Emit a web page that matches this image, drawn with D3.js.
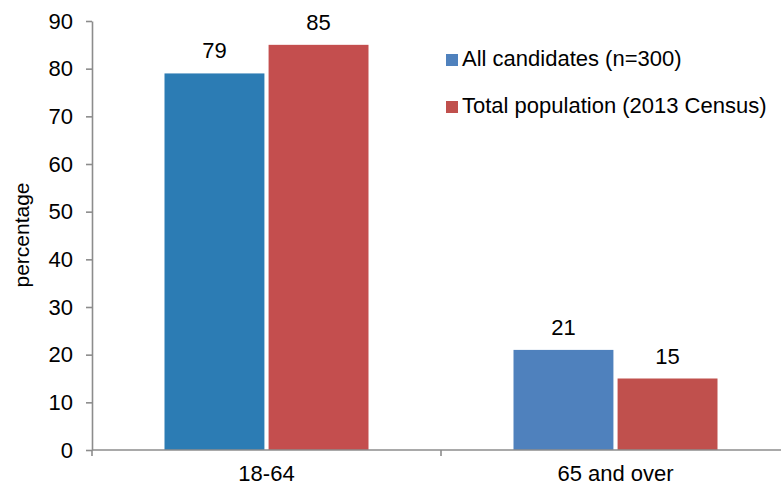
<!DOCTYPE html>
<html>
<head>
<meta charset="utf-8">
<script src="https://cdn.jsdelivr.net/npm/d3@7/dist/d3.min.js"></script>
<style>
  html, body { margin: 0; padding: 0; background: #fff; }
  svg { display: block; font-family: "Liberation Sans", Arial, sans-serif; }
</style>
</head>
<body>
<svg id="chart" width="781" height="486"></svg>
<script>
// Age groups on the x axis
const categories = ["18-64", "65 and over"];
// Series shown in the legend
const seriesNames = ["All candidates (n=300)", "Total population (2013 Census)"];
// Percentages per age group, one array per series
const candidates = [79, 21];
const population = [85, 15];
// Y axis tick values
const yTicks = [0, 10, 20, 30, 40, 50, 60, 70, 80, 90];

const seriesValues = [candidates, population];

// Fill colours: series 1 in the first group uses a slightly deeper blue
const barFill = [["#2c7cb4", "#4f81bd"], ["#c44e4e", "#c0504d"]];
const legendFill = ["#4f81bd", "#c0504d"];
const axisColor = "#8c8c8c";
const fontSize = 22;

const svg = d3.select("#chart");

const x = d3.scaleBand().domain(categories).range([92, 790]).paddingInner(0).paddingOuter(0);
const y = d3.scaleLinear().domain([0, 90]).range([450, 21]);
const xs = d3.scaleBand().domain(d3.range(seriesNames.length)).range([-102, 102]).paddingInner(0.04);

// Y axis
const yAxis = svg.append("g")
  .attr("transform", "translate(92,0)")
  .call(d3.axisLeft(y).tickValues(yTicks).tickSize(6).tickSizeOuter(0).tickPadding(13));
yAxis.select(".domain").attr("stroke", axisColor).attr("stroke-width", 1.6);
yAxis.selectAll(".tick line").attr("stroke", axisColor).attr("stroke-width", 1.6);
yAxis.selectAll(".tick text").attr("font-size", fontSize).attr("fill", "#000")
  .attr("font-family", "Liberation Sans, Arial, sans-serif");

// Y axis title
svg.append("text")
  .attr("transform", "translate(29,235) rotate(-90)")
  .attr("text-anchor", "middle")
  .attr("font-size", 21)
  .attr("fill", "#000")
  .text("percentage");

// Bars
const groups = svg.append("g").selectAll("g")
  .data(categories)
  .join("g")
  .attr("transform", d => `translate(${x(d) + x.bandwidth() / 2},0)`);

groups.each(function (cat, ci) {
  const g = d3.select(this);
  seriesValues.forEach((vals, si) => {
    const v = vals[ci];
    g.append("rect")
      .attr("x", xs(si))
      .attr("width", xs.bandwidth())
      .attr("y", y(v))
      .attr("height", y(0) - y(v))
      .attr("fill", barFill[si][ci]);
    g.append("text")
      .attr("x", xs(si) + xs.bandwidth() / 2)
      .attr("y", y(v) - 15)
      .attr("text-anchor", "middle")
      .attr("font-size", fontSize)
      .attr("fill", "#000")
      .text(v);
  });
});

// X axis
const xAxis = svg.append("g");
xAxis.append("line")
  .attr("x1", 92).attr("x2", 781)
  .attr("y1", y(0)).attr("y2", y(0))
  .attr("stroke", axisColor).attr("stroke-width", 1.6);
xAxis.selectAll("line.tick")
  .data(categories.concat(["end"]))
  .join("line")
  .attr("class", "tick")
  .attr("x1", (d, i) => i < categories.length ? x(d) : x.range()[1])
  .attr("x2", (d, i) => i < categories.length ? x(d) : x.range()[1])
  .attr("y1", y(0)).attr("y2", y(0) + 6)
  .attr("stroke", axisColor).attr("stroke-width", 1.6);
xAxis.selectAll("text")
  .data(categories)
  .join("text")
  .attr("x", d => x(d) + x.bandwidth() / 2)
  .attr("y", 481)
  .attr("text-anchor", "middle")
  .attr("font-size", fontSize)
  .attr("fill", "#000")
  .text(d => d);

// Legend
const legend = svg.append("g");
seriesNames.forEach((name, i) => {
  const yy = 66 + i * 47;
  legend.append("rect")
    .attr("x", 446).attr("y", yy - 12)
    .attr("width", 12).attr("height", 12)
    .attr("fill", legendFill[i]);
  legend.append("text")
    .attr("x", 462).attr("y", yy)
    .attr("font-size", fontSize)
    .attr("fill", "#000")
    .text(name);
});
</script>
</body>
</html>
